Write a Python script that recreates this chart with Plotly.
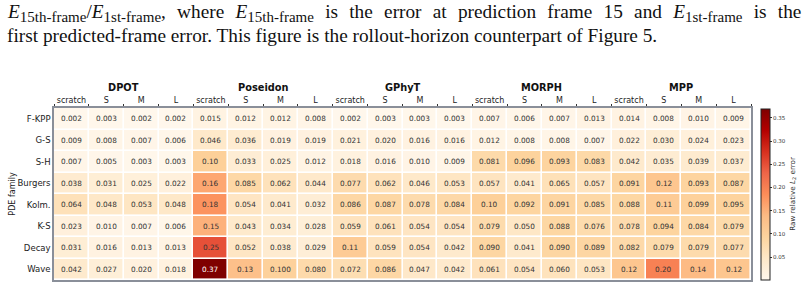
import plotly.graph_objects as go

models = ["DPOT", "Poseidon", "GPhyT", "MORPH", "MPP"]
sizes = ["scratch", "S", "M", "L"]
pde_families = ["F-KPP", "G-S", "S-H", "Burgers", "Kolm.", "K-S", "Decay", "Wave"]

# rows: PDE family; columns: model x size (scratch, S, M, L)
f_kpp   = [0.002, 0.003, 0.002, 0.002, 0.015, 0.012, 0.012, 0.008, 0.002, 0.003, 0.003, 0.003, 0.007, 0.006, 0.007, 0.013, 0.014, 0.008, 0.010, 0.009]
g_s     = [0.009, 0.008, 0.007, 0.006, 0.046, 0.036, 0.019, 0.019, 0.021, 0.020, 0.016, 0.016, 0.012, 0.008, 0.008, 0.007, 0.022, 0.030, 0.024, 0.023]
s_h     = [0.007, 0.005, 0.003, 0.003, 0.102, 0.033, 0.025, 0.012, 0.018, 0.016, 0.010, 0.009, 0.081, 0.096, 0.093, 0.083, 0.042, 0.035, 0.039, 0.037]
burgers = [0.038, 0.031, 0.025, 0.022, 0.16, 0.085, 0.062, 0.044, 0.077, 0.062, 0.046, 0.053, 0.057, 0.041, 0.065, 0.057, 0.091, 0.12, 0.093, 0.087]
kolm    = [0.064, 0.048, 0.053, 0.048, 0.18, 0.054, 0.041, 0.032, 0.086, 0.087, 0.078, 0.084, 0.102, 0.092, 0.091, 0.085, 0.088, 0.11, 0.099, 0.095]
k_s     = [0.023, 0.010, 0.007, 0.006, 0.15, 0.043, 0.034, 0.028, 0.059, 0.061, 0.054, 0.054, 0.079, 0.050, 0.088, 0.076, 0.078, 0.094, 0.084, 0.079]
decay   = [0.031, 0.016, 0.013, 0.013, 0.25, 0.052, 0.038, 0.029, 0.11, 0.059, 0.054, 0.042, 0.090, 0.041, 0.090, 0.089, 0.082, 0.079, 0.079, 0.077]
wave    = [0.042, 0.027, 0.020, 0.018, 0.37, 0.13, 0.0998, 0.080, 0.072, 0.086, 0.047, 0.042, 0.061, 0.054, 0.060, 0.053, 0.12, 0.20, 0.14, 0.12]

z = [f_kpp, g_s, s_h, burgers, kolm, k_s, decay, wave]
col_labels = [s for m in models for s in sizes]

W, H = 804, 287
ML, MR, MT, MB = 54.3, 53.0, 107.5, 6.5
PW, PH = W - ML - MR, H - MT - MB

def px_x(x):
    return (x - ML) / PW

def px_y(y):
    return (H - MB - y) / PH

def fmt(v):
    return f"{v:.2f}" if v >= 0.1 else f"{v:.3f}"

colorscale = [
    [0.0, "rgb(255,247,236)"], [0.125, "rgb(254,232,200)"], [0.25, "rgb(253,212,158)"],
    [0.375, "rgb(253,187,132)"], [0.5, "rgb(252,141,89)"], [0.625, "rgb(239,101,72)"],
    [0.75, "rgb(215,48,31)"], [0.875, "rgb(179,0,0)"], [1.0, "rgb(127,0,0)"],
]

zmin = min(min(r) for r in z)
zmax = max(max(r) for r in z)

fig = go.Figure()
fig.add_trace(go.Heatmap(
    z=z, x=list(range(len(col_labels))), y=list(range(len(pde_families))),
    colorscale=colorscale, zmin=zmin, zmax=zmax, xgap=1.6, ygap=1.6,
    hoverinfo="skip",
    colorbar=dict(
        x=px_x(761), xanchor="left", xref="paper", xpad=0, ypad=0,
        y=px_y(194), yanchor="middle", len=172 / PH, lenmode="fraction",
        thickness=9.4, thicknessmode="pixels",
        outlinewidth=1, outlinecolor="#222",
        tickvals=[0.05, 0.10, 0.15, 0.20, 0.25, 0.30, 0.35],
        ticktext=["0.05", "0.10", "0.15", "0.20", "0.25", "0.30", "0.35"],
        ticks="outside", ticklen=2, tickwidth=0.6, tickcolor="#333",
        tickfont=dict(family="DejaVu Sans", size=5.5, color="#333"),
        title=dict(text="Raw relative <i>L</i><sub>2</sub> error", side="right",
                   font=dict(family="DejaVu Sans", size=7.2, color="#333")),
    ),
))

annotations = []
for i, row in enumerate(z):
    for j, v in enumerate(row):
        annotations.append(dict(
            x=j, y=i, xref="x", yref="y", text=fmt(v), showarrow=False,
            font=dict(family="DejaVu Sans", size=7.3, color="white" if v > 0.3 else "#333"),
        ))

for k, m in enumerate(models):
    annotations.append(dict(
        x=4 * k + 1.5, y=px_y(86.7), xref="x", yref="paper", text=f"<b>{m}</b>",
        showarrow=False, yanchor="middle",
        font=dict(family="DejaVu Sans", size=9.8, color="#111"),
    ))

cap_font = dict(family="Liberation Serif", size=19.3, color="#111")
gap = " &#160;&#8202;"

def sub(t):
    return f"<sub><span style='font-size:15px'>{t}</span></sub>"

line1_words = [
    f"<i>E</i>{sub('15th-frame')}/<i>E</i>{sub('1st-frame')},", "where",
    f"<i>E</i>{sub('15th-frame')}", "is", "the", "error", "at", "prediction", "frame", "15", "and",
    f"<i>E</i>{sub('1st-frame')}", "is", "the",
]
annotations.append(dict(
    x=px_x(5), y=px_y(12), xref="paper", yref="paper", xanchor="left", yanchor="middle",
    showarrow=False, align="left", font=cap_font,
    text=gap.join(line1_words),
))
annotations.append(dict(
    x=px_x(5), y=px_y(34.5), xref="paper", yref="paper", xanchor="left", yanchor="middle",
    showarrow=False, align="left", font=cap_font,
    text="first predicted-frame error. This figure is the rollout-horizon counterpart of Figure 5.",
))

fig.update_layout(
    width=W, height=H,
    margin=dict(l=ML, r=MR, t=MT, b=MB, pad=0),
    paper_bgcolor="white", plot_bgcolor="white",
    annotations=annotations,
    xaxis=dict(
        side="top", range=[-0.5, len(col_labels) - 0.5],
        tickvals=list(range(len(col_labels))), ticktext=col_labels,
        ticks="", tickfont=dict(family="DejaVu Sans", size=8, color="#222"),
        showgrid=False, zeroline=False,
        showline=True, mirror=True, linecolor="#8a8f99", linewidth=1.5,
        minor=dict(ticks="outside", tick0=-0.5, dtick=1, ticklen=2.5, tickcolor="#333", tickwidth=1),
    ),
    yaxis=dict(
        range=[len(pde_families) - 0.5, -0.5],
        tickvals=list(range(len(pde_families))), ticktext=pde_families,
        ticks="", tickfont=dict(family="DejaVu Sans", size=8.5, color="#222"),
        showgrid=False, zeroline=False,
        showline=True, mirror=True, linecolor="#8a8f99", linewidth=1.5,
        title=dict(text="PDE family", font=dict(family="DejaVu Sans", size=8, color="#222"), standoff=0),
    ),
)

fig.write_html("out.html")
